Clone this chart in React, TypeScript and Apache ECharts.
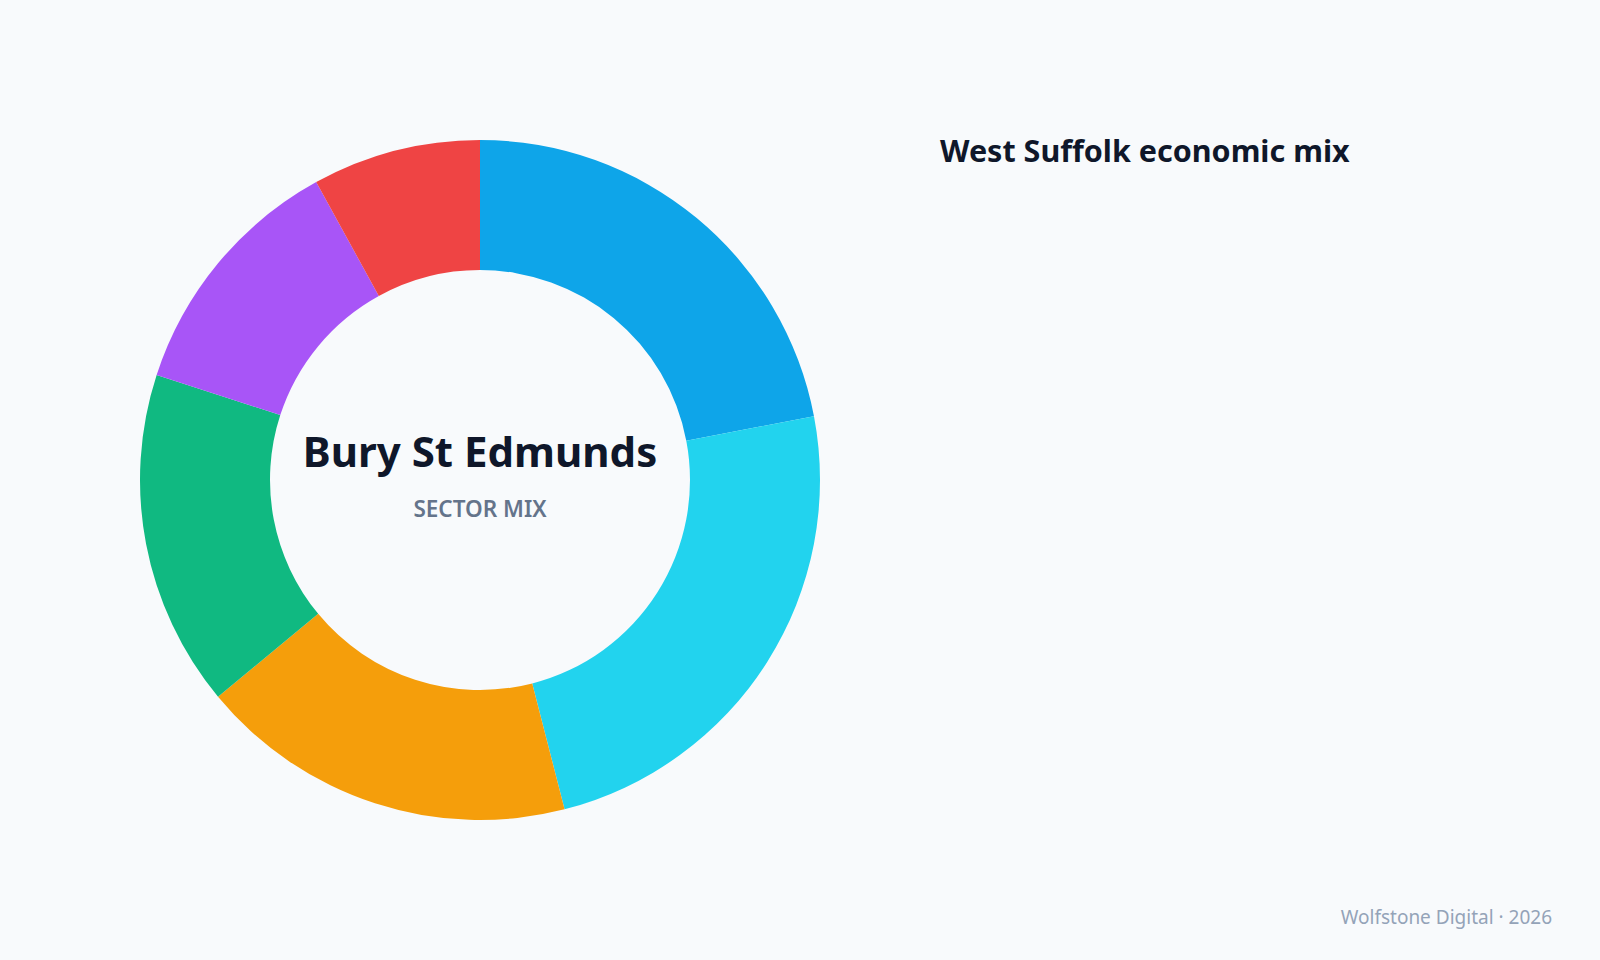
import React, { useEffect, useRef } from 'react';
import * as echarts from 'echarts';

// Sector shares (%), clockwise from 12 o'clock
const sectors = [
  'Public services',
  'Retail & hospitality',
  'Manufacturing',
  'Agri-food',
  'Logistics',
  'Creative & digital',
];
const shares = [22, 24, 18, 16, 12, 8];
const colors = ['#0ea5e9', '#22d3ee', '#f59e0b', '#10b981', '#a855f7', '#ef4444'];

const TITLE = 'West Suffolk economic mix';
const CENTER_TITLE = 'Bury St Edmunds';
const CENTER_SUB = 'SECTOR MIX';
const CREDIT = 'Wolfstone Digital · 2026';

const FONT = '"Noto Sans", "Open Sans", sans-serif';

export default function App() {
  const chartRef = useRef<HTMLDivElement>(null);

  useEffect(() => {
    if (!chartRef.current) return;
    const chart = echarts.init(chartRef.current, undefined, { renderer: 'svg' });

    chart.setOption({
      animation: false,
      backgroundColor: '#f8fafc',
      title: [
        {
          text: TITLE,
          left: 940,
          top: 134,
          padding: 0,
          textStyle: { fontFamily: FONT, fontSize: 30.5, fontWeight: 'bold', color: '#0f172a' },
        },
        {
          text: CENTER_TITLE,
          left: 480,
          top: 429,
          padding: 0,
          textAlign: 'center',
          textStyle: { fontFamily: FONT, fontSize: 42, fontWeight: 'bold', color: '#0f172a' },
        },
        {
          text: CENTER_SUB,
          left: 480,
          top: 497,
          padding: 0,
          textAlign: 'center',
          textStyle: { fontFamily: FONT, fontSize: 22.5, fontWeight: 600, color: '#64748b' },
        },
        {
          text: CREDIT,
          right: 48,
          top: 907,
          padding: 0,
          textStyle: { fontFamily: FONT, fontSize: 19, fontWeight: 'normal', color: '#94a3b8' },
        },
      ],
      tooltip: { show: false },
      series: [
        {
          type: 'pie',
          center: [480, 480],
          radius: [210, 340],
          startAngle: 90,
          clockwise: true,
          label: { show: false },
          labelLine: { show: false },
          emphasis: { disabled: true },
          itemStyle: { borderWidth: 0 },
          data: sectors.map((name, i) => ({
            name,
            value: shares[i],
            itemStyle: { color: colors[i] },
          })),
        },
      ],
    });

    return () => {
      chart.dispose();
    };
  }, []);

  return (
    <div style={{ position: 'fixed', left: 0, top: 0, width: 1600, height: 960 }}>
      <div ref={chartRef} style={{ width: '100%', height: '100%' }} />
    </div>
  );
}
